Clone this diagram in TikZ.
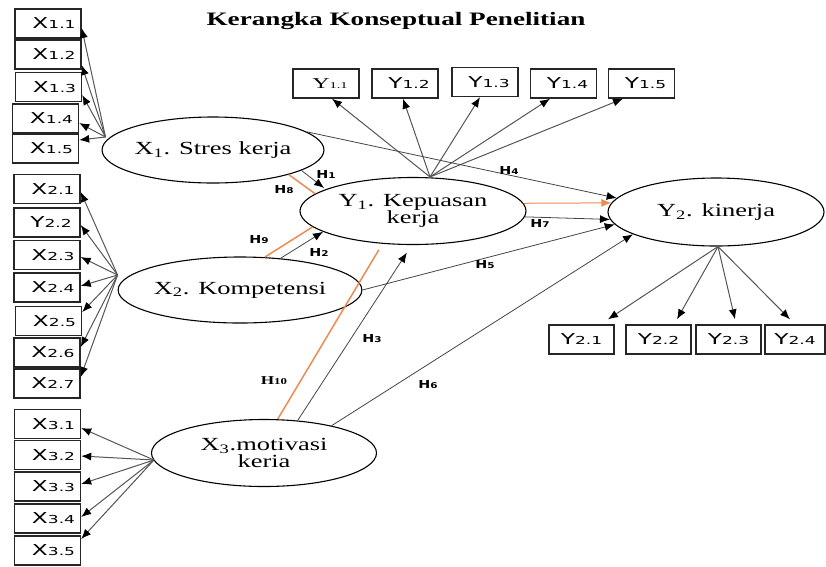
\documentclass[tikz,border=0pt]{standalone}
\usepackage{fontspec}
\setmainfont{Liberation Serif}
\newfontfamily\boxfont{DejaVu Sans}
\usetikzlibrary{shapes.geometric,arrows.meta}
\definecolor{ln}{RGB}{85,85,85}
\definecolor{org}{RGB}{236,140,80}
\newcommand\stx[1]{\scalebox{1.43}[1]{#1}}
\newcommand\bxl[3]{\hspace*{#1}\scalebox{1.55}[1]{\boxfont\fontsize{15}{15}\selectfont #2{\fontsize{11}{11}\selectfont #3}}}
\newcommand\hyp[1]{\scalebox{1.3}[1]{\boxfont\bfseries\fontsize{11}{11}\selectfont H{\fontsize{8}{8}\selectfont #1}}}
\begin{document}
\begin{tikzpicture}[x=1pt,y=-1pt,
 box/.style={draw=black!85,line width=1.4pt,minimum width=66pt,minimum height=29pt,inner sep=0pt},
 lat/.style={draw=black,line width=1.1pt,ellipse,inner sep=0pt,align=center,font=\fontsize{18.5}{17}\selectfont},
 ind/.style={draw=ln,line width=1pt,-{Latex[length=10pt,width=8pt,color=black]}},
 strc/.style={draw=ln!80!black,line width=0.8pt,-{Latex[length=10pt,width=8pt,color=black]}},
 og/.style={draw=org,line width=1.5pt},
 hl/.style={inner sep=0pt}]
\useasboundingbox (0,0) rectangle (826,566);
\node (title) at (396,21) {\stx{\fontsize{19}{19}\selectfont\bfseries Kerangka Konseptual Penelitian}};
% latent variables
\node[lat,minimum width=214pt,minimum height=66pt] (X1) at (213,150) {\stx{X\textsubscript{1}. Stres kerja}};
\node[lat,minimum width=226pt,minimum height=67pt] (Y1) at (413,211) {\stx{Y\textsubscript{1}. Kepuasan}\\\stx{kerja}};
\node[lat,minimum width=216pt,minimum height=68pt] (Y2) at (716,212) {\stx{Y\textsubscript{2}. kinerja}};
\node[lat,minimum width=224pt,minimum height=66pt] (X2) at (240,290) {\stx{X\textsubscript{2}. Kompetensi}};
\node[lat,minimum width=225pt,minimum height=67pt] (X3) at (264,453) {\stx{X\textsubscript{3}.motivasi}\\\stx{keria}};
% X1 indicators
\node[box] (x11) at (48,23.5) {\bxl{12pt}{X}{1.1}};
\node[box] (x12) at (48,54.5) {\bxl{12pt}{X}{1.2}};
\node[box] (x13) at (48.5,87) {\bxl{12pt}{X}{1.3}};
\node[box] (x14) at (45.5,118.5) {\bxl{12pt}{X}{1.4}};
\node[box] (x15) at (45.5,148.5) {\bxl{12pt}{X}{1.5}};
% X2 indicators
\node[box] (x21) at (47,189) {\bxl{12pt}{X}{2.1}};
\node[box] (x22) at (47,222.5) {\bxl{8pt}{Y}{2.2}};
\node[box] (x23) at (47,255) {\bxl{12pt}{X}{2.3}};
\node[box] (x24) at (47,287.5) {\bxl{12pt}{X}{2.4}};
\node[box] (x25) at (48.5,321) {\bxl{12pt}{X}{2.5}};
\node[box] (x26) at (47,352.5) {\bxl{12pt}{X}{2.6}};
\node[box] (x27) at (47,383.5) {\bxl{12pt}{X}{2.7}};
% X3 indicators
\node[box] (x31) at (47.5,424) {\bxl{12pt}{X}{3.1}};
\node[box] (x32) at (47.5,455) {\bxl{12pt}{X}{3.2}};
\node[box] (x33) at (47.5,486.5) {\bxl{12pt}{X}{3.3}};
\node[box] (x34) at (47.5,518.5) {\bxl{12pt}{X}{3.4}};
\node[box] (x35) at (47.5,550.5) {\bxl{12pt}{X}{3.5}};
% Y1 indicators
\node[box] (y11) at (326,83.5) {\hspace*{8pt}\scalebox{1.6}[1]{\fontsize{15}{15}\selectfont Y{\fontsize{9}{9}\selectfont 1.1}}};
\node[box] (y12) at (405,83.5) {\bxl{8pt}{Y}{1.2}};
\node[box] (y13) at (485,82) {\bxl{8pt}{Y}{1.3}};
\node[box] (y14) at (563.5,83.5) {\bxl{8pt}{Y}{1.4}};
\node[box] (y15) at (641.5,83.5) {\bxl{8pt}{Y}{1.5}};
% Y2 indicators
\node[box,minimum width=65pt] (y21) at (581.5,339.5) {\bxl{0pt}{Y}{2.1}};
\node[box,minimum width=65pt] (y22) at (658.5,339.5) {\bxl{0pt}{Y}{2.2}};
\node[box,minimum width=65pt] (y23) at (728.5,339.5) {\bxl{0pt}{Y}{2.3}};
\node[box,minimum width=60pt] (y24) at (795,339.5) {\bxl{0pt}{Y}{2.4}};
% origins of indicator arrows
\coordinate (x1o) at ([shift={(4pt,13pt)}]X1.west);
\coordinate (x2o) at ([yshift=15pt]X2.west);
\coordinate (x3o) at ([shift={(3pt,-7pt)}]X3.west);
\coordinate (y1o) at ([xshift=17pt]Y1.north);
\coordinate (y2o) at ([xshift=2pt]Y2.south);
% X1 indicator arrows
\draw[ind] (x1o) -- ([yshift=-4.5pt]x11.east);
\draw[ind] (x1o) -- ([yshift=-10.5pt]x12.east);
\draw[ind] (x1o) -- ([yshift=-8pt]x13.east);
\draw[ind] (x1o) -- ([yshift=-4.5pt]x14.east);
\draw[ind] (x1o) -- ([yshift=8.5pt]x15.east);
% X2 indicator arrows
\draw[ind] (x2o) -- ([yshift=-3pt]x21.east);
\draw[ind] (x2o) -- ([yshift=-2.5pt]x22.east);
\draw[ind] (x2o) -- ([yshift=-2pt]x23.east);
\draw[ind] (x2o) -- ([yshift=1.5pt]x24.east);
\draw[ind] (x2o) -- ([yshift=9pt]x25.east);
\draw[ind] (x2o) -- ([yshift=5.5pt]x26.east);
\draw[ind] (x2o) -- ([yshift=6.5pt]x27.east);
% X3 indicator arrows
\draw[ind] (x3o) -- ([yshift=-4pt]x31.east);
\draw[ind] (x3o) -- ([yshift=-1pt]x32.east);
\draw[ind] (x3o) -- ([yshift=2.5pt]x33.east);
\draw[ind] (x3o) -- ([yshift=1.5pt]x34.east);
\draw[ind] (x3o) -- ([yshift=11.5pt]x35.east);
% Y1 indicator arrows
\draw[ind] (y1o) -- ([xshift=6pt]y11.south);
\draw[ind] (y1o) -- ([xshift=-2pt]y12.south);
\draw[ind] (y1o) -- ([xshift=-5pt]y13.south);
\draw[ind] (y1o) -- ([xshift=-13.5pt]y14.south);
\draw[ind] (y1o) -- ([xshift=-18.5pt]y15.south);
% Y2 indicator arrows
\draw[ind] (y2o) -- ([shift={(26.5pt,5pt)}]y21.north);
\draw[ind] (y2o) -- ([shift={(18.5pt,5pt)}]y22.north);
\draw[ind] (y2o) -- ([shift={(6.5pt,5pt)}]y23.north);
\draw[ind] (y2o) -- ([shift={(-5pt,5pt)}]y24.north);
% structural paths
\draw[strc] (X1.11) -- (Y2.172);
\draw[strc,shorten >=2pt] (X1.-13) -- (Y1.166);
\draw[og] (X1.-18) -- (Y1.170);
\draw[og] (X2.53) -- (Y1.189);
\draw[strc] (X2.38) -- (Y1.193);
\draw[og,shorten >=7pt] (X3.68) -- (Y1.227);
\draw[strc,shorten >=9pt] (X3.44) -- (Y1.268);
\draw[strc] (X2.east) -- (Y2.187);
\draw[strc] (X3.22) -- (Y2.195);
\draw[strc] (Y1.-3) -- (Y2.184);
\draw[draw=org,line width=1pt,-{Latex[length=10pt,width=8pt,color=org]}] (Y1.4) -- (Y2.175);
% hypothesis labels
\node[hl] (h1) at (326,174) {\hyp{1}};
\node[hl] (h8) at (284,190) {\hyp{8}};
\node[hl] (h9) at (259,240) {\hyp{9}};
\node[hl] (h2) at (319,252) {\hyp{2}};
\node[hl] (h3) at (372,339) {\hyp{3}};
\node[hl] (h10) at (274,381) {\scalebox{1.43}[1]{\bfseries\fontsize{12}{12}\selectfont H{\fontsize{9}{9}\selectfont 10}}};
\node[hl] (h4) at (509,170) {\hyp{4}};
\node[hl] (h7) at (540,223) {\hyp{7}};
\node[hl] (h5) at (485,265) {\hyp{5}};
\node[hl] (h6) at (428,385) {\hyp{6}};
\end{tikzpicture}
\end{document}
